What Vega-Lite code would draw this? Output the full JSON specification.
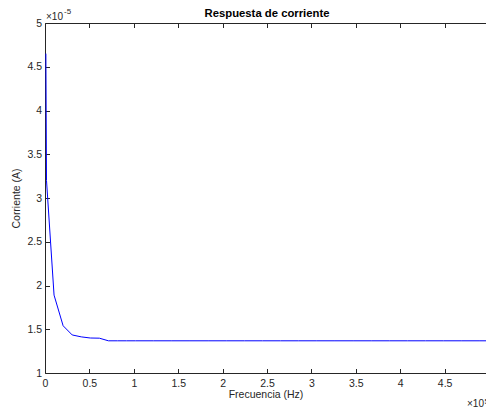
{
  "$schema": "https://vega.github.io/schema/vega-lite/v6.json",
  "autosize": {"type": "none"},
  "padding": {"left": 45, "top": 23, "right": 0, "bottom": 35},
  "width": 441,
  "height": 350,
  "background": "white",
  "title": {
    "text": "Respuesta de corriente",
    "font": "Liberation Sans",
    "fontSize": 11.3,
    "fontWeight": "bold",
    "color": "#000000",
    "anchor": "middle",
    "frame": "group",
    "dx": 1.5,
    "dy": 14.5,
    "offset": 3
  },
  "config": {
    "view": {"stroke": null},
    "axis": {
      "grid": false,
      "domainColor": "#262626",
      "domainWidth": 1,
      "tickColor": "#262626",
      "tickWidth": 1,
      "tickSize": -4.5,
      "labelFont": "Liberation Sans",
      "labelFontSize": 10.5,
      "labelColor": "#262626",
      "labelFlush": false,
      "labelOverlap": false,
      "titleFont": "Liberation Sans",
      "titleFontSize": 10.5,
      "titleFontWeight": "normal",
      "titleColor": "#262626"
    }
  },
  "datasets": {
    "curva": [
      {"frecuencia_hz": 1000, "corriente_a": 4.65e-5},
      {"frecuencia_hz": 1700, "corriente_a": 3.2e-5},
      {"frecuencia_hz": 10204, "corriente_a": 1.89e-5},
      {"frecuencia_hz": 20408, "corriente_a": 1.54e-5},
      {"frecuencia_hz": 30612, "corriente_a": 1.435e-5},
      {"frecuencia_hz": 40816, "corriente_a": 1.413e-5},
      {"frecuencia_hz": 51020, "corriente_a": 1.4e-5},
      {"frecuencia_hz": 61224, "corriente_a": 1.398e-5},
      {"frecuencia_hz": 71429, "corriente_a": 1.368e-5},
      {"frecuencia_hz": 81633, "corriente_a": 1.368e-5},
      {"frecuencia_hz": 91837, "corriente_a": 1.368e-5},
      {"frecuencia_hz": 102041, "corriente_a": 1.368e-5},
      {"frecuencia_hz": 122449, "corriente_a": 1.368e-5},
      {"frecuencia_hz": 142857, "corriente_a": 1.368e-5},
      {"frecuencia_hz": 163265, "corriente_a": 1.368e-5},
      {"frecuencia_hz": 183673, "corriente_a": 1.368e-5},
      {"frecuencia_hz": 204082, "corriente_a": 1.368e-5},
      {"frecuencia_hz": 224490, "corriente_a": 1.368e-5},
      {"frecuencia_hz": 244898, "corriente_a": 1.368e-5},
      {"frecuencia_hz": 265306, "corriente_a": 1.368e-5},
      {"frecuencia_hz": 285714, "corriente_a": 1.368e-5},
      {"frecuencia_hz": 306122, "corriente_a": 1.368e-5},
      {"frecuencia_hz": 326531, "corriente_a": 1.368e-5},
      {"frecuencia_hz": 346939, "corriente_a": 1.368e-5},
      {"frecuencia_hz": 367347, "corriente_a": 1.368e-5},
      {"frecuencia_hz": 387755, "corriente_a": 1.368e-5},
      {"frecuencia_hz": 408163, "corriente_a": 1.368e-5},
      {"frecuencia_hz": 428571, "corriente_a": 1.368e-5},
      {"frecuencia_hz": 448980, "corriente_a": 1.368e-5},
      {"frecuencia_hz": 469388, "corriente_a": 1.368e-5},
      {"frecuencia_hz": 489796, "corriente_a": 1.368e-5},
      {"frecuencia_hz": 500000, "corriente_a": 1.368e-5}
    ]
  },
  "layer": [
    {
      "data": {"name": "curva"},
      "mark": {"type": "line", "color": "#0000ff", "strokeWidth": 1, "clip": true},
      "encoding": {
        "x": {
          "field": "frecuencia_hz",
          "type": "quantitative",
          "scale": {"domain": [0, 496622], "nice": false, "zero": false},
          "axis": {
            "orient": "bottom",
            "title": "Frecuencia (Hz)",
            "values": [0, 50000, 100000, 150000, 200000, 250000, 300000, 350000, 400000, 450000],
            "labelExpr": "format(datum.value / 1e5, '~g')",
            "labelPadding": 9.5,
            "titlePadding": 1
          }
        },
        "y": {
          "field": "corriente_a",
          "type": "quantitative",
          "scale": {"domain": [1e-5, 5e-5], "nice": false, "zero": false},
          "axis": {
            "orient": "left",
            "title": "Corriente (A)",
            "values": [1e-5, 1.5e-5, 2e-5, 2.5e-5, 3e-5, 3.5e-5, 4e-5, 4.5e-5, 5e-5],
            "labelExpr": "format(datum.value * 1e5, '~g')",
            "labelPadding": 8,
            "titlePadding": 5
          }
        }
      }
    },
    {
      "data": {"name": "curva"},
      "mark": {"type": "line", "opacity": 0},
      "encoding": {
        "x": {
          "field": "frecuencia_hz",
          "type": "quantitative",
          "axis": {
            "orient": "top",
            "title": null,
            "labels": false,
            "values": [0, 50000, 100000, 150000, 200000, 250000, 300000, 350000, 400000, 450000]
          }
        },
        "y": {"field": "corriente_a", "type": "quantitative", "axis": null}
      }
    },
    {
      "data": {"values": [{}]},
      "mark": {"type": "text", "text": "×10", "font": "Liberation Sans", "fontSize": 10, "color": "#262626", "align": "left", "baseline": "alphabetic", "dx": 1, "dy": -3},
      "encoding": {
        "x": {"datum": 0, "type": "quantitative", "axis": null},
        "y": {"datum": 5e-5, "type": "quantitative", "axis": null}
      }
    },
    {
      "data": {"values": [{}]},
      "mark": {"type": "text", "text": "-5", "font": "Liberation Sans", "fontSize": 8, "color": "#262626", "align": "left", "baseline": "alphabetic", "dx": 19, "dy": -9},
      "encoding": {
        "x": {"datum": 0, "type": "quantitative", "axis": null},
        "y": {"datum": 5e-5, "type": "quantitative", "axis": null}
      }
    },
    {
      "data": {"values": [{}]},
      "mark": {"type": "text", "text": "×10", "font": "Liberation Sans", "fontSize": 10, "color": "#262626", "align": "right", "baseline": "alphabetic", "dx": -5, "dy": 34},
      "encoding": {
        "x": {"datum": 500000, "type": "quantitative", "axis": null},
        "y": {"datum": 1e-5, "type": "quantitative", "axis": null}
      }
    },
    {
      "data": {"values": [{}]},
      "mark": {"type": "text", "text": "5", "font": "Liberation Sans", "fontSize": 8, "color": "#262626", "align": "left", "baseline": "alphabetic", "dx": -4.5, "dy": 30.5},
      "encoding": {
        "x": {"datum": 500000, "type": "quantitative", "axis": null},
        "y": {"datum": 1e-5, "type": "quantitative", "axis": null}
      }
    }
  ],
  "resolve": {"axis": {"x": "independent", "y": "independent"}}
}
